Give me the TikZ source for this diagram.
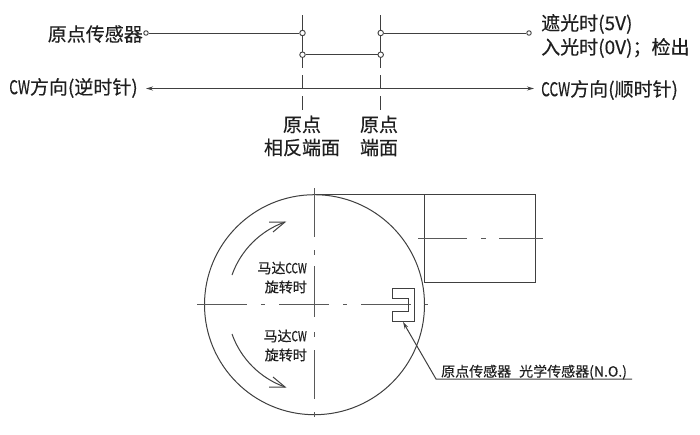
\documentclass[tikz,border=0pt]{standalone}
\usepackage{fontspec}
\usepackage{graphicx}
\setmainfont{Noto Sans CJK SC}[FakeBold=0.35]
\usetikzlibrary{arrows.meta}
\newcommand{\nrw}[1]{\scalebox{0.72}[1]{#1}}
\tikzset{
 ln/.style={draw=black!75,line width=1pt},
 cl/.style={draw=black!65,line width=1.2pt},
 port/.style={circle,draw=black!75,fill=white,line width=0.9pt,inner sep=0pt,minimum size=5.5pt},
 lab/.style={inner sep=0pt,font=\fontsize{19}{23}\selectfont,text=black!88},
 lab2/.style={inner sep=0pt,font=\fontsize{14}{19}\selectfont,text=black!88,align=right},
 lab3/.style={inner sep=0pt,font=\fontsize{14}{17}\selectfont,text=black!88},
 tip/.style={-{Stealth[length=7pt,width=4pt]}}
}
\begin{document}
\begin{tikzpicture}[x=1pt,y=-1pt]
\useasboundingbox[fill=white] (0,0) rectangle (700,434);
% top timing
\node[lab,anchor=east] (t1) at (143,34) {原点传感器};
\node[port,minimum size=4.5pt] (a0) at (146,33) {};
\coordinate (v1t) at (302.5,15); \coordinate (v1b) at (302.5,110);
\coordinate (v2t) at (380.7,15); \coordinate (v2b) at (380.7,110);
\draw[ln,dash pattern=on 53pt off 7pt on 13pt off 8pt on 14pt] (v1t)--(v1b);
\draw[ln,dash pattern=on 53pt off 7pt on 13pt off 8pt on 14pt] (v2t)--(v2b);
\node[port] (a1) at (302.5,33) {};
\node[port] (a2) at (302.5,54.7) {};
\node[port] (a3) at (380.7,54.7) {};
\node[port] (a4) at (380.7,33) {};
\node[port,minimum size=4.5pt] (a5) at (529,33) {};
\draw[ln] (a0)--(a1);
\draw[ln] (a2)--(a3);
\draw[ln] (a4)--(a5);
\node[lab,anchor=west] (t2) at (541,24) {遮光时(5V)};
\node[lab,anchor=west] (t3) at (541,48) {入光时(0V)；检出};
\node[lab,anchor=east] (t4) at (138,88) {\nrw{CW}方向(逆时针)};
\node[lab,anchor=west] (t5) at (541,90) {\nrw{CCW}方向(顺时针)};
\coordinate (ar1) at (146,88.5); \coordinate (ar2) at (534,88.5);
\draw[ln,{Stealth[length=7pt,width=4pt]}-{Stealth[length=7pt,width=4pt]}] (ar1)--(ar2);
\node[lab,align=center] (t6) at (302,136) {原点\\相反端面};
\node[lab,align=center] (t7) at (379,136) {原点\\端面};
% lower part
\coordinate (c) at (314.5,304.7);
\draw[ln] (c) circle (110);
\coordinate (r1) at (314.5,194.7); \coordinate (r2) at (535,194.7);
\coordinate (r3) at (535,282.7); \coordinate (r4) at (424.7,282.7); \coordinate (r5) at (424.7,194.7);
\draw[ln] (r1)--(r2)--(r3)--(r4)--(r5);
\coordinate (h1) at (197,304.7); \coordinate (h2) at (428,304.7);
\draw[cl,dash pattern=on 50pt off 14pt on 4pt off 14pt] (h1)--(h2);
\coordinate (w1) at (314.7,188); \coordinate (w2) at (314.7,418);
\draw[cl,dash pattern=on 49pt off 13pt on 5pt off 11pt on 51pt off 15pt on 5pt off 13pt] (w1)--(w2);
\coordinate (k1) at (418,238.7); \coordinate (k2) at (543,238.7);
\draw[cl,dash pattern=on 49pt off 14pt on 5pt off 13pt] (k1)--(k2);
% sensor
\draw[ln] (392,288)--(414,288)--(414,321.5)--(392,321.5)--(392,311.5)--(408.5,311.5)--(408.5,298.5)--(392,298.5)--cycle;
\coordinate (ld) at (436,379); \coordinate (le) at (632,379); \coordinate (lt) at (403,322);
\draw[ln,tip] (le)--(ld)--(lt);
\node[lab3,anchor=west] (t8) at (441,372) {原点传感器\hspace{8pt}光学传感器(N.O.)};
% arrows
\coordinate (u1) at (232,275); \coordinate (u2) at (285,222);
\coordinate (ub1) at (269,222); \coordinate (ub2) at (273,232);
\draw[ln] (u1) .. controls (240.7,250.3) and (260.3,230.7) .. (u2);
\draw[ln] (ub1)--(u2)--(ub2);
\coordinate (d1) at (232,334); \coordinate (d2) at (285,387);
\coordinate (db1) at (269,387); \coordinate (db2) at (273,377);
\draw[ln] (d1) .. controls (240.7,358.7) and (260.3,378.3) .. (d2);
\draw[ln] (db1)--(d2)--(db2);
\node[lab2,anchor=east] (t9) at (307,277.5) {马达\nrw{CCW}\\旋转时};
\node[lab2,anchor=east] (t10) at (307,345.5) {马达\nrw{CW}\\旋转时};
\end{tikzpicture}
\end{document}
